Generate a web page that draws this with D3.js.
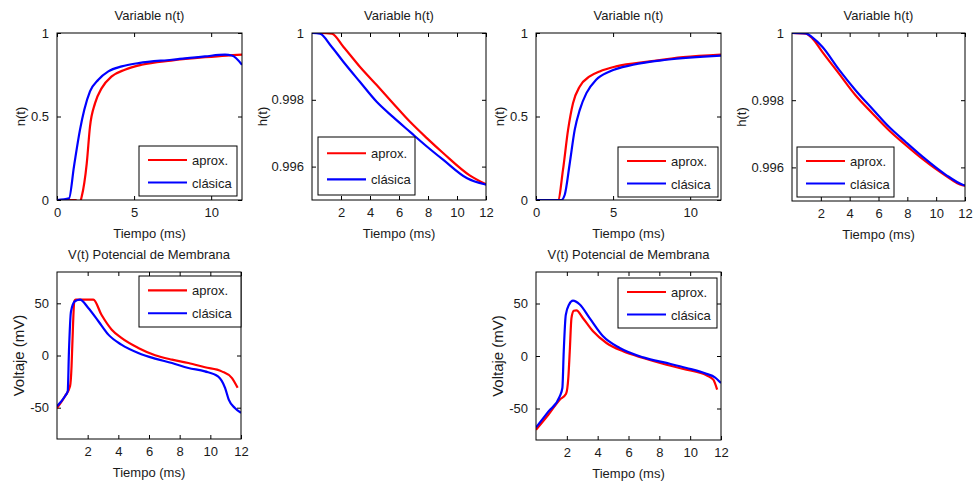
<!DOCTYPE html>
<html lang="es">
<head>
<meta charset="UTF-8">
<script src="https://d3js.org/d3.v7.min.js"></script>
<style>
  body { margin: 0; background: #fff; }
  svg text { font-family: "Liberation Sans", Arial, sans-serif; fill: #1a1a1a; }
</style>
</head>
<body>
<div id="chart"></div>
<script>
// time axis (ms) and [t, value] pairs
const xDomain = [0, 12];

// --- first simulation ---
const nAprox1 = [[0,0],[1.2,0],[1.35,-0.01],[1.5,-0.01],[1.6,0.02],[1.93,0.22],[2.14,0.44],[2.47,0.58],[2.9,0.67],
  [3.55,0.74],[4.4,0.78],[5.5,0.81],[7.4,0.835],[9.6,0.855],[11,0.865],[12,0.87]];
const nClasica1 = [[0,0],[0.78,0.01],[1.1,0.2],[1.49,0.42],[1.77,0.54],[2.14,0.65],[2.68,0.72],[3.33,0.77],
  [4.2,0.8],[5.3,0.82],[7.45,0.84],[9.6,0.86],[10.9,0.87],[11.34,0.865],[12,0.81]];
const hAprox1 = [[0,1],[0.6,1],[1.36,0.99998],[2.16,0.99959],[3.3,0.99899],[4.46,0.99844],[5.6,0.99789],
  [6.76,0.99734],[7.9,0.99686],[9.06,0.9964],[10.9,0.99573],[12,0.99547]];
const hClasica1 = [[0,1],[0.55,0.99998],[1.3,0.99962],[2.16,0.99914],[3.3,0.99854],[4.46,0.99794],[5.6,0.99748],
  [6.76,0.99704],[7.9,0.99661],[9.06,0.9962],[10.7,0.99565],[11.9,0.99547],[12,0.99546]];
const vAprox1 = [[0,-50.3],[0.52,-39],[0.85,-29.5],[0.95,-10],[1.0,10.4],[1.13,52],[1.22,53.5],[2.37,53.5],
  [2.9,39],[3.57,24.7],[4.2,16.8],[5.3,7.2],[6.4,0.2],[7.5,-4],[8.57,-7.2],[9.65,-11.3],[10.74,-15.2],
  [11.4,-21.5],[11.78,-31]];
const vClasica1 = [[0,-48.6],[0.52,-39],[0.7,-34.3],[0.78,4],[0.91,42],[1.17,52],[1.5,53.5],[2.04,45.5],
  [2.7,32.8],[3.35,20],[4.2,10.4],[5.3,2.4],[6.4,-3],[7.5,-7.2],[8.57,-12],[9.65,-15.2],[10.5,-20],
  [10.96,-31],[11.2,-42.3],[11.6,-50.3],[12,-55]];

// --- second simulation ---
const nAprox2 = [[0,0],[1.43,0],[1.75,0.18],[2.08,0.42],[2.4,0.58],[2.84,0.68],[3.48,0.74],[4.13,0.77],
  [5.2,0.8],[7.4,0.83],[9.55,0.855],[12,0.87]];
const nClasica2 = [[0,0],[1.64,0],[1.86,0.03],[2.19,0.22],[2.51,0.42],[2.84,0.54],[3.27,0.64],[3.9,0.72],
  [4.78,0.77],[6.3,0.81],[8.46,0.84],[12,0.865]];
const hAprox2 = [[0,1],[0.95,0.99998],[1.41,0.99984],[2.1,0.99944],[3.26,0.99879],[4.42,0.99814],[5.6,0.9976],
  [6.74,0.9971],[7.9,0.99666],[9.05,0.99625],[10.67,0.99575],[11.8,0.99547],[12,0.99546]];
const hClasica2 = [[0,1],[0.95,0.99999],[1.41,0.99987],[2.1,0.99959],[3.26,0.99891],[4.42,0.99829],[5.6,0.99773],
  [6.74,0.9972],[7.9,0.99675],[9.05,0.99632],[10.67,0.99578],[11.8,0.99549],[12,0.99546]];
const vAprox2 = [[0,-70.2],[0.8,-56],[1.54,-41.6],[1.95,-36],[2.1,-20],[2.19,4.5],[2.3,36],[2.45,43],[2.62,43.5],
  [3.05,36],[3.7,23.5],[4.57,12.4],[5.65,4.5],[6.95,-1.9],[8.46,-8.3],[9.76,-13],[11.06,-18.4],[11.5,-22.5],[11.75,-32]];
const vClasica2 = [[0,-68],[0.8,-53],[1.54,-38.4],[1.71,-30.5],[1.8,4.5],[1.93,39],[2.14,48.9],[2.4,52.7],[2.84,49],
  [3.48,36],[4.35,18.7],[5.43,7.6],[6.95,-1.3],[8.46,-6.6],[9.76,-11.4],[11.06,-17],[11.6,-20.3],[12,-25.7]];

const legendLabels = ["aprox.", "clásica"];
const seriesColors = ["#ff0000", "#0000ff"];

const nTicks = [0, 0.5, 1], nTickLabels = ["0", "0.5", "1"];
const hTicks = [0.996, 0.998, 1], hTickLabels = ["0.996", "0.998", "1"];
const vTicks = [-50, 0, 50], vTickLabels = ["-50", "0", "50"];
const tTicksA = [0, 5, 10], tTicksB = [2, 4, 6, 8, 10, 12];

const W = 979, H = 487;
const svg = d3.select("#chart").append("svg").attr("width", W).attr("height", H);

// panel boxes in pixels
const panels = [
  {x0:57, x1:242, y0:33, y1:200, title:"Variable n(t)", ylab:"n(t)", ylabX:20, ylabFs:13, yDom:[0,1], yT:nTicks, yTL:nTickLabels, xT:tTicksA,
   a:nAprox1, c:nClasica1, leg:[139,146,98,50]},
  {x0:312, x1:486, y0:33, y1:200, title:"Variable h(t)", ylab:"h(t)", ylabX:262, ylabFs:13, yDom:[0.995,1], yT:hTicks, yTL:hTickLabels, xT:tTicksB,
   a:hAprox1, c:hClasica1, leg:[318,137,97,58]},
  {x0:536, x1:721, y0:33, y1:200, title:"Variable n(t)", ylab:"n(t)", ylabX:499, ylabFs:13, yDom:[0,1], yT:nTicks, yTL:nTickLabels, xT:tTicksA,
   a:nAprox2, c:nClasica2, leg:[618,147,100,50]},
  {x0:792, x1:965, y0:33, y1:201, title:"Variable h(t)", ylab:"h(t)", ylabX:741, ylabFs:13, yDom:[0.995,1], yT:hTicks, yTL:hTickLabels, xT:tTicksB,
   a:hAprox2, c:hClasica2, leg:[797,147,97,50]},
  {x0:57, x1:241, y0:272, y1:439, title:"V(t) Potencial de Membrana", ylab:"Voltaje (mV)", ylabX:19, ylabFs:15, yDom:[-80,80], yT:vTicks, yTL:vTickLabels, xT:tTicksB,
   a:vAprox1, c:vClasica1, leg:[139,276,102,51]},
  {x0:536, x1:721, y0:272, y1:440, title:"V(t) Potencial de Membrana", ylab:"Voltaje (mV)", ylabX:498, ylabFs:15, yDom:[-80,80], yT:vTicks, yTL:vTickLabels, xT:tTicksB,
   a:vAprox2, c:vClasica2, leg:[618,278,99,50]}
];

const tickLen = 4;
const fs = 13;

panels.forEach(function(p, i) {
  const x = d3.scaleLinear().domain(xDomain).range([p.x0, p.x1]);
  const y = d3.scaleLinear().domain(p.yDom).range([p.y1, p.y0]);
  const g = svg.append("g");

  g.append("rect").attr("x", p.x0).attr("y", p.y0).attr("width", p.x1 - p.x0).attr("height", p.y1 - p.y0)
    .attr("fill", "#fff");

  g.append("clipPath").attr("id", "clip" + i).append("rect")
    .attr("x", p.x0).attr("y", p.y0).attr("width", p.x1 - p.x0).attr("height", p.y1 - p.y0);

  // axes, ticks inward on every side
  const bottom = d3.axisBottom(x).tickValues(p.xT).tickSizeInner(-tickLen).tickSizeOuter(0).tickPadding(8).tickFormat(d3.format("d"));
  const top = d3.axisTop(x).tickValues(p.xT).tickSizeInner(-tickLen).tickSizeOuter(0).tickFormat("");
  const left = d3.axisLeft(y).tickValues(p.yT).tickSizeInner(-tickLen).tickSizeOuter(0).tickPadding(8)
    .tickFormat(function(d, k) { return p.yTL[k]; });
  const right = d3.axisRight(y).tickValues(p.yT).tickSizeInner(-tickLen).tickSizeOuter(0).tickFormat("");

  [[bottom, `translate(0,${p.y1})`], [top, `translate(0,${p.y0})`], [left, `translate(${p.x0},0)`], [right, `translate(${p.x1},0)`]]
    .forEach(function(a) {
      const ax = g.append("g").attr("transform", a[1]).call(a[0]);
      ax.select(".domain").remove();
      ax.selectAll("line").attr("stroke", "#000");
      ax.selectAll("text").attr("font-size", fs).style("font-family", null);
    });

  // curves
  const line = d3.line().curve(d3.curveMonotoneX)
    .x(function(d) { return x(d[0]); }).y(function(d) { return y(d[1]); });
  const plot = g.append("g").attr("clip-path", `url(#clip${i})`);
  [p.a, p.c].forEach(function(s, k) {
    plot.append("path").datum(s).attr("d", line).attr("fill", "none")
      .attr("stroke", seriesColors[k]).attr("stroke-width", 2.2).attr("stroke-linejoin", "round");
  });

  // box
  g.append("rect").attr("x", p.x0).attr("y", p.y0).attr("width", p.x1 - p.x0).attr("height", p.y1 - p.y0)
    .attr("fill", "none").attr("stroke", "#000").attr("stroke-width", 1);

  // labels
  g.append("text").attr("x", (p.x0 + p.x1) / 2).attr("y", p.y0 - 13).attr("text-anchor", "middle")
    .attr("font-size", fs).text(p.title);
  g.append("text").attr("x", (p.x0 + p.x1) / 2).attr("y", p.y1 + 38).attr("text-anchor", "middle")
    .attr("font-size", fs).text("Tiempo (ms)");
  g.append("text").attr("transform", `translate(${p.ylabX + 5},${(p.y0 + p.y1) / 2}) rotate(-90)`)
    .attr("text-anchor", "middle").attr("font-size", p.ylabFs).text(p.ylab);

  // legend
  const L = p.leg;
  const lg = g.append("g").attr("transform", `translate(${L[0]},${L[1]})`);
  lg.append("rect").attr("width", L[2]).attr("height", L[3]).attr("fill", "#fff").attr("stroke", "#000");
  legendLabels.forEach(function(lbl, k) {
    const ly = L[3] / 2 + (k === 0 ? -L[3] * 0.22 : L[3] * 0.23);
    lg.append("line").attr("x1", 9).attr("x2", 48).attr("y1", ly).attr("y2", ly)
      .attr("stroke", seriesColors[k]).attr("stroke-width", 2.2);
    lg.append("text").attr("x", 53).attr("y", ly + 5).attr("font-size", fs).text(lbl);
  });
});
</script>
</body>
</html>
